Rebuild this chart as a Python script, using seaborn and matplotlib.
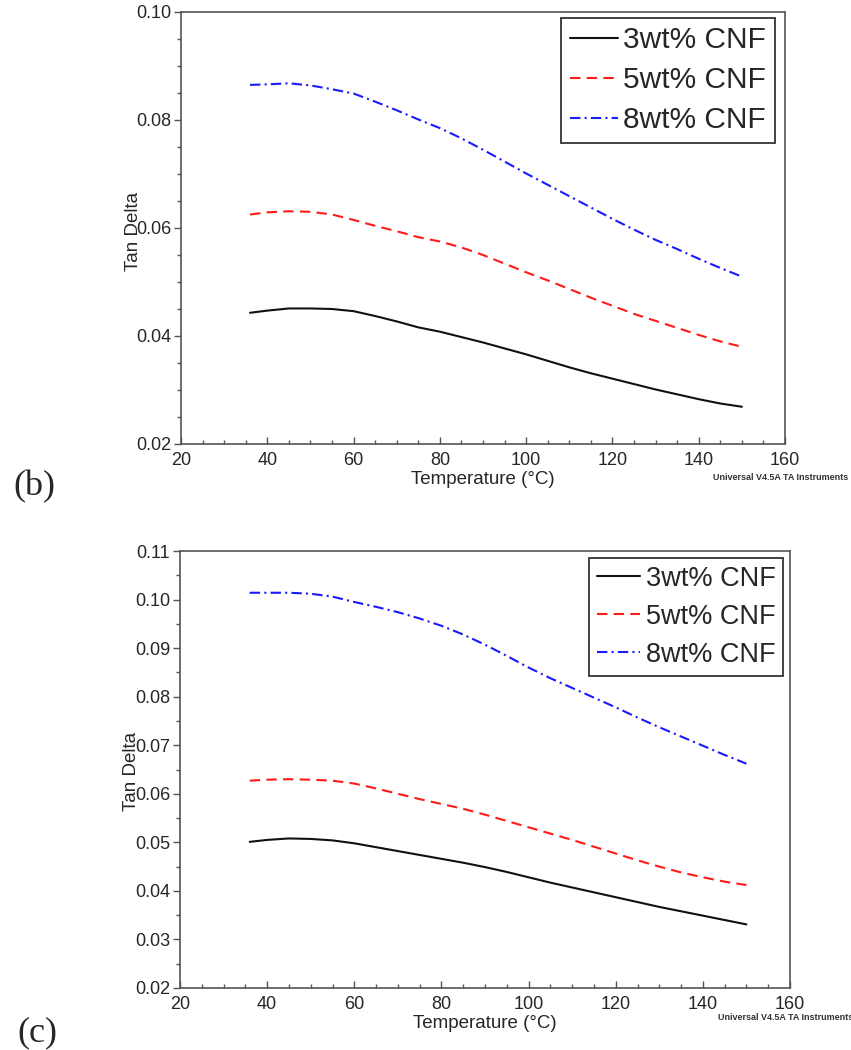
import matplotlib
matplotlib.use("Agg")
import matplotlib.pyplot as plt
from matplotlib.ticker import MultipleLocator, FormatStrFormatter
import seaborn as sns
import pandas as pd

# Temperature sweep (°C)
temperature = [36, 40, 45, 50, 55, 60, 65, 70, 75, 80, 85, 90, 95,
               100, 105, 110, 115, 120, 125, 130, 135, 140, 145, 150]

# Panel (b): tan delta
b_cnf3 = [0.0443, 0.0447, 0.0451, 0.0451, 0.0450, 0.0446, 0.0437, 0.0427,
          0.0416, 0.0408, 0.0398, 0.0388, 0.0377, 0.0366, 0.0354, 0.0342,
          0.0331, 0.0321, 0.0311, 0.0301, 0.0292, 0.0283, 0.0275, 0.0269]
b_cnf5 = [0.0625, 0.0629, 0.0631, 0.0630, 0.0625, 0.0615, 0.0604, 0.0594,
          0.0583, 0.0575, 0.0564, 0.0550, 0.0534, 0.0518, 0.0503, 0.0487,
          0.0471, 0.0456, 0.0441, 0.0428, 0.0415, 0.0402, 0.0390, 0.0380]
b_cnf8 = [0.0865, 0.0866, 0.0868, 0.0864, 0.0857, 0.0849, 0.0834, 0.0818,
          0.0801, 0.0785, 0.0766, 0.0745, 0.0723, 0.0701, 0.0680, 0.0659,
          0.0638, 0.0617, 0.0597, 0.0578, 0.0561, 0.0543, 0.0526, 0.0510]

# Panel (c): tan delta
c_cnf3 = [0.0501, 0.0505, 0.0508, 0.0507, 0.0504, 0.0498, 0.0490, 0.0482,
          0.0474, 0.0466, 0.0458, 0.0449, 0.0439, 0.0428, 0.0417, 0.0407,
          0.0397, 0.0387, 0.0377, 0.0367, 0.0358, 0.0349, 0.0340, 0.0331]
c_cnf5 = [0.0627, 0.0629, 0.0630, 0.0629, 0.0627, 0.0621, 0.0611, 0.0600,
          0.0589, 0.0579, 0.0569, 0.0557, 0.0544, 0.0531, 0.0518, 0.0505,
          0.0491, 0.0477, 0.0463, 0.0450, 0.0438, 0.0428, 0.0419, 0.0412]
c_cnf8 = [0.1014, 0.1014, 0.1014, 0.1012, 0.1006, 0.0995, 0.0985, 0.0974,
          0.0961, 0.0946, 0.0928, 0.0907, 0.0884, 0.0860, 0.0838, 0.0818,
          0.0798, 0.0778, 0.0757, 0.0737, 0.0718, 0.0699, 0.0680, 0.0662]

series_labels = ["3wt% CNF", "5wt% CNF", "8wt% CNF"]
x_ticks = [20, 40, 60, 80, 100, 120, 140, 160]

sns.set_style("ticks")
plt.rcParams["font.family"] = ["Liberation Sans", "DejaVu Sans"]

fig = plt.figure(figsize=(8.51, 10.5), dpi=100)
ax_b = fig.add_axes([181 / 851, 1 - 444 / 1050, 604 / 851, 432 / 1050])
ax_c = fig.add_axes([180 / 851, 1 - 988 / 1050, 610 / 851, 437 / 1050])

line_styles = [
    dict(color="#111111", linestyle="-", linewidth=1.5),
    dict(color="#ff1a1a", linestyle=(0, (5, 3)), linewidth=1.5),
    dict(color="#1a1aff", linestyle=(0, (5, 2, 1, 2)), linewidth=1.5),
]


def draw_panel(ax, curves, ylim, ymajor, legend_anchor, legend_size,
               legend_spacing, label_pos):
    for values, label, style in zip(curves, series_labels, line_styles):
        df = pd.DataFrame({"Temperature": temperature, "TanDelta": values})
        sns.lineplot(data=df, x="Temperature", y="TanDelta", ax=ax,
                     label=label, **style)

    ax.set_xlim(20, 160)
    ax.set_ylim(*ylim)
    ax.set_xticks(x_ticks)
    ax.xaxis.set_minor_locator(MultipleLocator(5))
    ax.yaxis.set_major_locator(MultipleLocator(ymajor))
    ax.yaxis.set_minor_locator(MultipleLocator(0.005))
    ax.yaxis.set_major_formatter(FormatStrFormatter("%.2f"))

    ax.tick_params(axis="x", which="major", direction="in", length=5,
                   width=1, color="#555555", labelsize=13, pad=6)
    ax.tick_params(axis="x", which="minor", direction="in", length=3,
                   width=1, color="#555555")
    ax.tick_params(axis="y", which="major", direction="out", length=5,
                   width=1, color="#555555", labelsize=13, pad=2)
    ax.tick_params(axis="y", which="minor", direction="out", length=3,
                   width=1, color="#555555")

    for side in ["top", "right", "bottom", "left"]:
        ax.spines[side].set_visible(True)
        ax.spines[side].set_color("#555555")
        ax.spines[side].set_linewidth(1.2)

    ax.set_xlabel("Temperature (°C)", fontsize=13.5, labelpad=1)
    ax.set_ylabel("Tan Delta", fontsize=13.5)
    ax.yaxis.set_label_coords(*label_pos)

    leg = ax.legend(loc="upper right", bbox_to_anchor=legend_anchor,
                    fontsize=legend_size, frameon=True, fancybox=False,
                    handlelength=1.6, handletextpad=0.2,
                    labelspacing=legend_spacing, borderpad=0.28,
                    borderaxespad=0.0)
    leg.get_frame().set_edgecolor("#333333")
    leg.get_frame().set_linewidth(1.3)
    leg.get_frame().set_alpha(1.0)


draw_panel(ax_b, [b_cnf3, b_cnf5, b_cnf8], (0.02, 0.10), 0.02,
           (0.983, 0.986), 21.5, 0.40, (-0.065, 0.493))
draw_panel(ax_c, [c_cnf3, c_cnf5, c_cnf8], (0.02, 0.11), 0.01,
           (0.9885, 0.984), 19.5, 0.45, (-0.066, 0.495))

# Panel tags
fig.text(34 / 851, 1 - 487 / 1050, "(b)", family="Liberation Serif",
         fontsize=26, ha="center", va="center")
fig.text(37 / 851, 1 - 1033 / 1050, "(c)", family="Liberation Serif",
         fontsize=26, ha="center", va="center")

# Instrument signature
fig.text(848 / 851, 1 - 478 / 1050, "Universal V4.5A TA Instruments",
         fontsize=6.5, fontweight="bold", color="#333333",
         ha="right", va="center")
fig.text(853 / 851, 1 - 1017 / 1050, "Universal V4.5A TA Instruments",
         fontsize=6.5, fontweight="bold", color="#333333",
         ha="right", va="center")

fig.savefig("out.png", dpi=100)
